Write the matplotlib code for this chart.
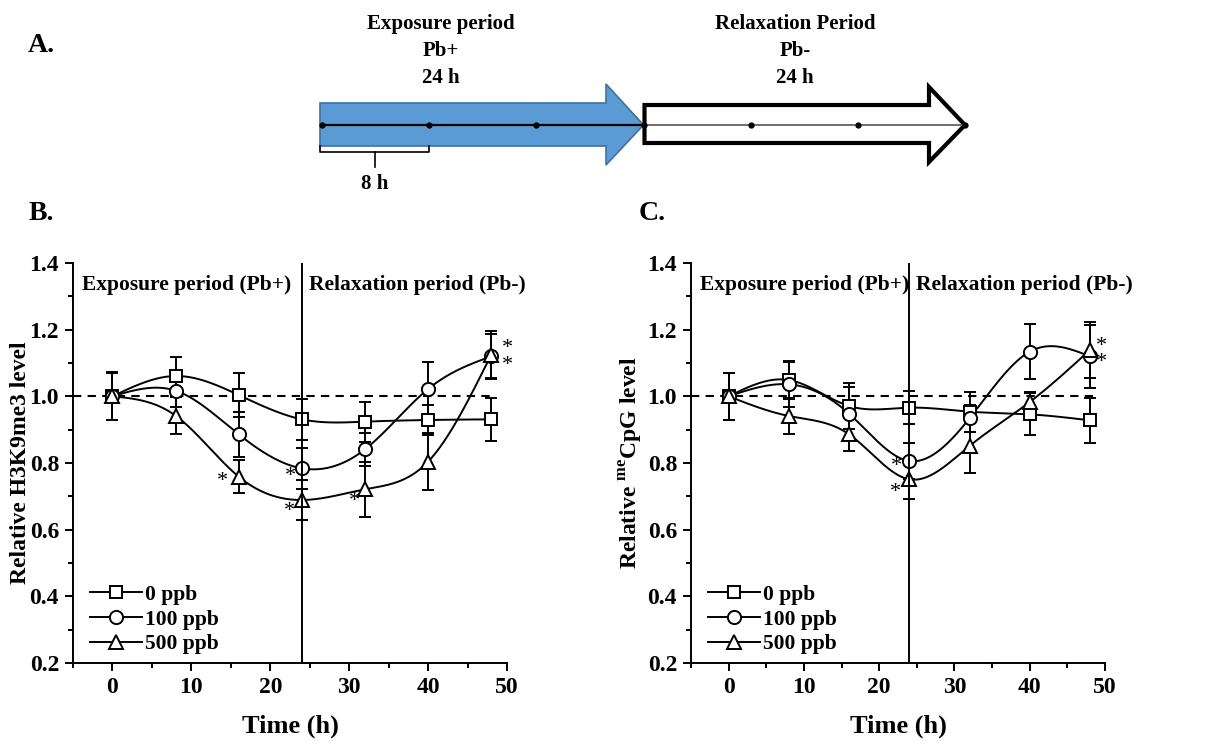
import numpy as np
import matplotlib.pyplot as plt
from matplotlib.patches import Polygon
from matplotlib.ticker import MultipleLocator

plt.rcParams['font.family'] = ['Liberation Serif', 'DejaVu Serif']
plt.rcParams['font.weight'] = 'bold'
plt.rcParams['axes.labelweight'] = 'bold'
plt.rcParams['mathtext.fontset'] = 'custom'
plt.rcParams['mathtext.rm'] = 'Liberation Serif:bold'
plt.rcParams['mathtext.bf'] = 'Liberation Serif:bold'

# sampling times (h) and doses
time_h = [0, 8, 16, 24, 32, 40, 48]
doses = ['0 ppb', '100 ppb', '500 ppb']
markers = ['s', 'o', '^']

# panel B: relative H3K9me3
h3k9_0 = [1.00, 1.061, 1.004, 0.931, 0.924, 0.929, 0.931]
h3k9_100 = [1.00, 1.017, 0.886, 0.784, 0.841, 1.022, 1.120]
h3k9_500 = [1.00, 0.942, 0.759, 0.689, 0.721, 0.804, 1.125]
h3k9_err_0 = [0.072, 0.056, 0.066, 0.062, 0.060, 0.045, 0.065]
h3k9_err_100 = [0.070, 0.050, 0.068, 0.062, 0.050, 0.082, 0.068]
h3k9_err_500 = [0.072, 0.055, 0.050, 0.060, 0.082, 0.085, 0.070]

# panel C: relative meCpG
cpg_0 = [1.00, 1.049, 0.971, 0.966, 0.954, 0.946, 0.928]
cpg_100 = [1.00, 1.036, 0.948, 0.806, 0.934, 1.134, 1.120]
cpg_500 = [1.00, 0.941, 0.886, 0.751, 0.851, 0.983, 1.139]
cpg_err_0 = [0.070, 0.056, 0.070, 0.050, 0.060, 0.063, 0.067]
cpg_err_100 = [0.070, 0.068, 0.080, 0.055, 0.040, 0.082, 0.094]
cpg_err_500 = [0.070, 0.055, 0.050, 0.060, 0.082, 0.030, 0.085]

# significance marks (x, y)
h3k9_stars = [(13.9, 0.745), (22.5, 0.760), (22.4, 0.655), (30.7, 0.685),
              (50.0, 1.143), (50.0, 1.093)]
cpg_stars = [(22.3, 0.790), (22.2, 0.712), (49.5, 1.150), (49.5, 1.100)]


def natural_spline(x, y, n=400):
    x = np.asarray(x, float)
    y = np.asarray(y, float)
    k = len(x)
    h = np.diff(x)
    A = np.zeros((k, k))
    r = np.zeros(k)
    A[0, 0] = A[-1, -1] = 1
    for i in range(1, k - 1):
        A[i, i - 1] = h[i - 1]
        A[i, i] = 2 * (h[i - 1] + h[i])
        A[i, i + 1] = h[i]
        r[i] = 6 * ((y[i + 1] - y[i]) / h[i] - (y[i] - y[i - 1]) / h[i - 1])
    M = np.linalg.solve(A, r)
    xs = np.linspace(x[0], x[-1], n)
    idx = np.clip(np.searchsorted(x, xs) - 1, 0, k - 2)
    x0, x1 = x[idx], x[idx + 1]
    hh = x1 - x0
    a = (x1 - xs) / hh
    b = (xs - x0) / hh
    ys = a * y[idx] + b * y[idx + 1] + ((a ** 3 - a) * M[idx] + (b ** 3 - b) * M[idx + 1]) * hh ** 2 / 6
    return xs, ys


def draw_panel(ax, means, errs, ylabel, stars, label_x):
    lw = 1.4
    handles = []
    for vals, err, m, lab in zip(means, errs, markers, doses):
        xs, ys = natural_spline(time_h, vals)
        ax.plot(xs, ys, color='k', lw=lw, zorder=3)
        ax.errorbar(time_h, vals, yerr=err, fmt='none', ecolor='k',
                    elinewidth=lw, capsize=4, capthick=lw, zorder=2)
        ms = 8.5 if m == 's' else 9.5
        ax.plot(time_h, vals, ls='none', marker=m, ms=ms, mfc='white',
                mec='k', mew=lw, zorder=4)
        h, = ax.plot([], [], '-', color='k', lw=lw, marker=m, ms=ms,
                     mfc='white', mec='k', mew=lw, label=lab)
        handles.append(h)

    ax.hlines(1.0, -5, 48.6, colors='k', linestyles=(0, (4, 3)), lw=1.5, zorder=1)
    ax.axvline(24, color='k', lw=1.4, zorder=5)

    for sx, sy in stars:
        ax.text(sx, sy, '*', ha='center', va='center', fontsize=16,
                fontweight='normal', zorder=6)

    ax.text(-3.8, 1.335, 'Exposure period (Pb+)', fontsize=15.5, va='center')
    ax.text(24.9, 1.335, 'Relaxation period (Pb-)', fontsize=15.5, va='center',
            clip_on=False)

    ax.set_xlim(-5, 50)
    ax.set_ylim(0.2, 1.4)
    ax.xaxis.set_major_locator(MultipleLocator(10))
    ax.xaxis.set_minor_locator(MultipleLocator(5))
    ax.yaxis.set_major_locator(MultipleLocator(0.2))
    ax.yaxis.set_minor_locator(MultipleLocator(0.1))
    ax.yaxis.set_major_formatter(plt.FuncFormatter(lambda v, p: f'{v:.1f}'))
    for s in ['top', 'right']:
        ax.spines[s].set_visible(False)
    for s in ['left', 'bottom']:
        ax.spines[s].set_linewidth(1.4)
    ax.tick_params(which='major', direction='out', length=6, width=1.4,
                   labelsize=17, pad=4)
    ax.tick_params(which='minor', direction='out', length=3.5, width=1.4)
    ax.set_xlabel('Time (h)', fontsize=19, labelpad=12)
    ax.set_ylabel(ylabel, fontsize=17, va='center')
    ax.yaxis.set_label_coords(label_x, 0.5)
    ax.legend(handles=handles, loc='lower left', frameon=False, fontsize=15.5,
              handlelength=2.4, handletextpad=0.15, labelspacing=0.22,
              borderaxespad=0.2, borderpad=0.2, bbox_to_anchor=(0.02, 0.0))


fig = plt.figure(figsize=(12.24, 7.41), dpi=100)

# panel A: timeline schematic (pixel-like coordinates)
axa = fig.add_axes([0, 1 - 200 / 741, 1, 200 / 741])
axa.set_xlim(0, 1224)
axa.set_ylim(200, 0)
axa.axis('off')

x_start, x_end = 322, 965
px_per_h = (x_end - x_start) / 48
x_mid = x_start + 24 * px_per_h
y_line = 125

blue = Polygon([(320, 103), (606, 103), (606, 84), (x_mid, y_line),
                (606, 165), (606, 146), (320, 146)], closed=True,
               facecolor='#5B9BD5', edgecolor='#41719C', lw=1.2)
axa.add_patch(blue)
white = Polygon([(x_mid + 1, 105), (929, 105), (929, 87), (x_end, y_line),
                 (929, 162), (929, 143), (x_mid + 1, 143)], closed=True,
                facecolor='white', edgecolor='black', lw=3, joinstyle='miter')
axa.add_patch(white)

axa.plot([x_start, x_mid], [y_line, y_line], color='k', lw=1.6)
axa.plot([x_mid, x_end], [y_line, y_line], color='#555555', lw=1.2)
dots_x = [x_start + t * px_per_h for t in time_h]
axa.plot(dots_x, [y_line] * len(dots_x), 'o', color='k', ms=3.5)

# 8 h bracket
bx0, bx1 = 320, x_start + 8 * px_per_h
axa.plot([bx0, bx0, bx1, bx1], [146, 152, 152, 146], color='k', lw=1.2)
axa.plot([(bx0 + bx1) / 2] * 2, [152, 167], color='k', lw=1.2)
axa.text((bx0 + bx1) / 2, 184, '8 h', ha='center', va='center', fontsize=15)

for cx, lines in [(441, ['Exposure period', 'Pb+', '24 h']),
                  (795, ['Relaxation Period', 'Pb-', '24 h'])]:
    for yy, s in zip([24, 51, 78], lines):
        axa.text(cx, yy, s, ha='center', va='center', fontsize=15)

fig.text(41 / 1224, 1 - 45 / 741, 'A.', fontsize=20, ha='center', va='center')
fig.text(41 / 1224, 1 - 214 / 741, 'B.', fontsize=20, ha='center', va='center')
fig.text(652 / 1224, 1 - 214 / 741, 'C.', fontsize=20, ha='center', va='center')

# panels B and C
axb = fig.add_axes([73 / 1224, 1 - 663 / 741, 434 / 1224, 400 / 741])
draw_panel(axb, [h3k9_0, h3k9_100, h3k9_500],
           [h3k9_err_0, h3k9_err_100, h3k9_err_500],
           'Relative H3K9me3 level', h3k9_stars, -0.12)

axc = fig.add_axes([691 / 1224, 1 - 663 / 741, 414 / 1224, 400 / 741])
draw_panel(axc, [cpg_0, cpg_100, cpg_500],
           [cpg_err_0, cpg_err_100, cpg_err_500],
           r'Relative $^{\mathbf{me}}$CpG level', cpg_stars, -0.143)

fig.savefig('out.png', dpi=100)
